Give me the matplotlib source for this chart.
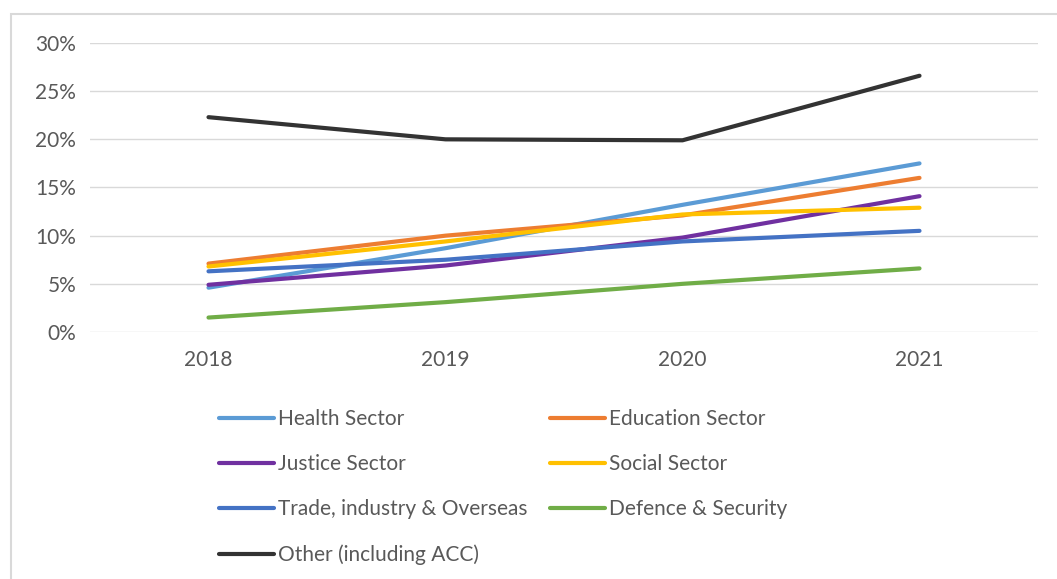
import matplotlib.pyplot as plt
from matplotlib.patches import Rectangle
from matplotlib.ticker import PercentFormatter

plt.rcParams['font.family'] = ['Lato', 'DejaVu Sans']

years = ["2018", "2019", "2020", "2021"]

health = [4.6, 8.7, 13.2, 17.5]
education = [7.1, 10.0, 12.1, 16.0]
justice = [4.9, 6.9, 9.8, 14.1]
social = [6.8, 9.4, 12.2, 12.9]
trade = [6.3, 7.5, 9.4, 10.5]
defence = [1.5, 3.1, 5.0, 6.6]
other = [22.3, 20.0, 19.9, 26.6]

series = [
    ("Health Sector", health, "#5B9BD5"),
    ("Education Sector", education, "#ED7D31"),
    ("Justice Sector", justice, "#7030A0"),
    ("Social Sector", social, "#FFC000"),
    ("Trade, industry & Overseas", trade, "#4472C4"),
    ("Defence & Security", defence, "#70AD47"),
    ("Other (including ACC)", other, "#333333"),
]

fig = plt.figure(figsize=(10.57, 5.79), dpi=100)
ax = fig.add_axes([90 / 1057, 1 - 332 / 579, 948 / 1057, 289 / 579])

# chart border, open on the right and bottom edges
fig.patches.append(Rectangle((11 / 1057, -0.05), 1.2, 1.05 - 14 / 579,
                             transform=fig.transFigure, fill=False,
                             edgecolor="#d9d9d9", linewidth=1.5))

x = range(len(years))
handles = {}
for name, vals, col in series:
    ln, = ax.plot(x, vals, color=col, linewidth=3, solid_capstyle="round", label=name)
    handles[name] = ln

ax.set_xlim(-0.5, len(years) - 0.5)
ax.set_ylim(0, 30)
ax.set_yticks([0, 5, 10, 15, 20, 25, 30])
ax.yaxis.set_major_formatter(PercentFormatter(decimals=0))
ax.set_xticks(list(x))
ax.set_xticklabels(years)
ax.grid(axis="y", color="#d9d9d9", linewidth=1)
ax.set_axisbelow(True)
for s in ax.spines.values():
    s.set_visible(False)
ax.tick_params(length=0, labelsize=15, labelcolor="#595959")
ax.tick_params(axis="x", pad=13)
ax.tick_params(axis="y", pad=10)

# legend reads row by row: two columns, filled column-wise
order = ["Health Sector", "Justice Sector", "Trade, industry & Overseas",
         "Other (including ACC)", "Education Sector", "Social Sector",
         "Defence & Security"]
leg = fig.legend([handles[n] for n in order], order, ncol=2, frameon=False,
                 loc="upper left", bbox_to_anchor=(219 / 1057, 1 - 409 / 579),
                 borderpad=0, borderaxespad=0, handlelength=2.65,
                 handletextpad=0.2, columnspacing=1.05, labelspacing=1.21,
                 fontsize=15)
for t in leg.get_texts():
    t.set_color("#595959")

fig.savefig("out.png", dpi=100, facecolor="white")
